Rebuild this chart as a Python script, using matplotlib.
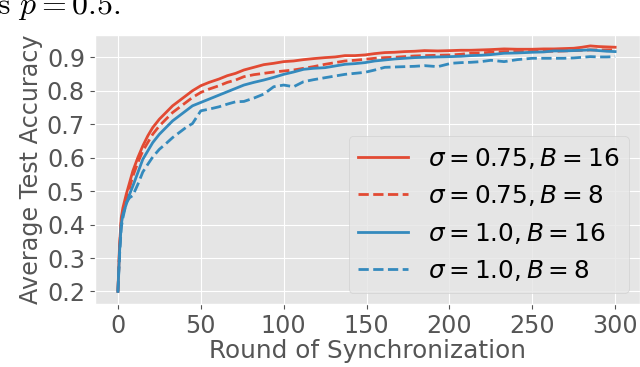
import numpy as np
import matplotlib
matplotlib.use('Agg')
import matplotlib.pyplot as plt

plt.style.use('ggplot')
plt.rcParams['mathtext.fontset'] = 'dejavusans'

#-- values (round -> average test accuracy)
rounds = [0, 1, 2, 3, 5, 7, 9, 12, 15, 18, 21, 25, 29, 33, 37, 41, 45, 50, 55, 61, 66, 71,
          76, 82, 88, 94, 100, 106, 112, 118, 125, 131, 137, 143, 149, 155, 161, 167, 173,
          179, 185, 193, 201, 207, 213, 219, 225, 233, 241, 250, 257, 263, 269, 275, 280,
          285, 290, 295, 300]

acc_075_16 = [0.20, 0.34, 0.42, 0.45, 0.49, 0.525, 0.56, 0.60, 0.635, 0.665, 0.69, 0.715, 0.735,
              0.755, 0.77, 0.785, 0.80, 0.815, 0.825, 0.835, 0.845, 0.852,
              0.862, 0.870, 0.878, 0.882, 0.887, 0.889, 0.893, 0.896, 0.899, 0.901, 0.905, 0.905,
              0.907, 0.911, 0.914, 0.915, 0.917, 0.918, 0.920, 0.919, 0.920, 0.921, 0.921, 0.922,
              0.923, 0.925, 0.924, 0.924, 0.925, 0.925, 0.926, 0.927, 0.930, 0.934, 0.932, 0.931,
              0.930]
acc_075_8 = [0.20, 0.33, 0.41, 0.44, 0.475, 0.51, 0.545, 0.585, 0.62, 0.645, 0.67, 0.695, 0.715,
             0.735, 0.75, 0.765, 0.78, 0.795, 0.805, 0.815, 0.825, 0.832,
             0.842, 0.848, 0.852, 0.856, 0.859, 0.862, 0.867, 0.872, 0.879, 0.884, 0.889, 0.891,
             0.894, 0.897, 0.899, 0.900, 0.902, 0.904, 0.905, 0.906, 0.907, 0.909, 0.912, 0.913,
             0.915, 0.917, 0.917, 0.917, 0.918, 0.918, 0.919, 0.920, 0.921, 0.922, 0.922, 0.922,
             0.922]
acc_10_16 = [0.20, 0.32, 0.40, 0.43, 0.46, 0.49, 0.515, 0.555, 0.595, 0.62, 0.645, 0.67, 0.69,
             0.71, 0.725, 0.74, 0.755, 0.765, 0.775, 0.787, 0.797, 0.807,
             0.817, 0.825, 0.832, 0.840, 0.849, 0.856, 0.864, 0.867, 0.869, 0.874, 0.879, 0.881,
             0.884, 0.889, 0.892, 0.895, 0.897, 0.899, 0.900, 0.901, 0.902, 0.903, 0.905, 0.906,
             0.908, 0.912, 0.913, 0.915, 0.916, 0.919, 0.919, 0.920, 0.921, 0.922, 0.920, 0.918,
             0.917]
acc_10_8 = [0.20, 0.31, 0.39, 0.42, 0.465, 0.48, 0.487, 0.52, 0.557, 0.58, 0.602, 0.625, 0.642,
            0.66, 0.675, 0.69, 0.702, 0.74, 0.745, 0.752, 0.76, 0.767,
            0.768, 0.778, 0.790, 0.812, 0.817, 0.812, 0.827, 0.833, 0.839, 0.844, 0.849, 0.852,
            0.855, 0.862, 0.870, 0.871, 0.872, 0.873, 0.875, 0.872, 0.882, 0.884, 0.885, 0.887,
            0.891, 0.887, 0.893, 0.897, 0.897, 0.897, 0.897, 0.898, 0.900, 0.902, 0.901, 0.901,
            0.902]

series = [
    (acc_075_16, '#E24A33', '-', r'$\sigma = 0.75, B = 16$'),
    (acc_075_8, '#E24A33', '--', r'$\sigma = 0.75, B = 8$'),
    (acc_10_16, '#348ABD', '-', r'$\sigma = 1.0, B = 16$'),
    (acc_10_8, '#348ABD', '--', r'$\sigma = 1.0, B = 8$'),
]

fig = plt.figure(figsize=(6.4, 3.67), dpi=100)
ax = fig.add_axes([0.148, 0.172, 0.852, 0.733])

for values, color, style, label in series:
    ax.plot(rounds, values, color=color, linestyle=style, linewidth=2.0, label=label)

ax.set_xlim(-14, 315)
ax.set_ylim(0.163, 0.967)
ax.set_xticks([0, 50, 100, 150, 200, 250, 300])
ax.set_yticks([0.2, 0.3, 0.4, 0.5, 0.6, 0.7, 0.8, 0.9])
ax.tick_params(labelsize=17.2)
ax.set_xlabel('Round of Synchronization', fontsize=17.8, labelpad=1)
ax.set_ylabel('Average Test Accuracy', fontsize=17.2, labelpad=2.5)

ax.legend(loc='lower right', fontsize=17.8, borderaxespad=0.45)

#-- cropped caption line from the page above the figure
fig.text(-11 / 640, 1 - 14 / 367, r'$\mathrm{is}\ p = 0.5.$', fontsize=23,
         math_fontfamily='cm', va='baseline', ha='left')

fig.savefig('out.png', dpi=100)
